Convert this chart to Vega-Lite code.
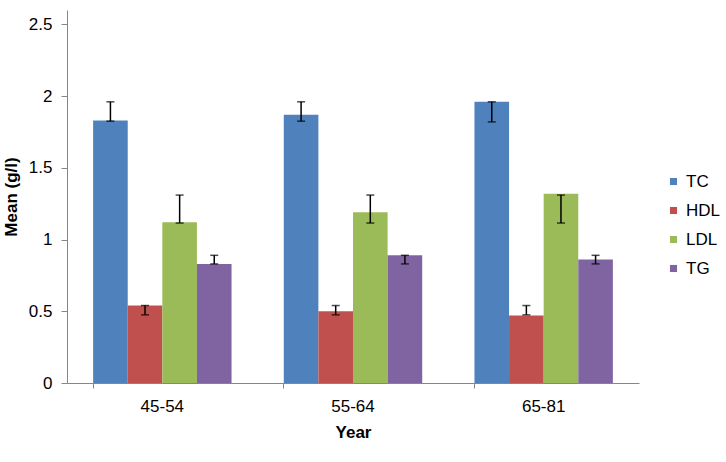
{
  "$schema": "https://vega.github.io/schema/vega-lite/v6.json",
  "width": 572,
  "height": 373,
  "autosize": {"type": "none"},
  "padding": {"left": 67, "top": 10, "right": 87, "bottom": 79},
  "background": "white",
  "config": {
    "view": {"stroke": null},
    "font": "Liberation Sans",
    "axis": {
      "domainColor": "#868686",
      "tickColor": "#868686",
      "labelColor": "#000000",
      "titleColor": "#000000",
      "labelFont": "Liberation Sans",
      "titleFont": "Liberation Sans",
      "labelFontSize": 17,
      "titleFontSize": 17,
      "titleFontWeight": "bold",
      "grid": false,
      "tickSize": 6
    }
  },
  "data": {
    "values": [
      {"year": "45-54", "measure": "TC", "mean": 1.83, "lo": 1.825, "hi": 1.96},
      {"year": "45-54", "measure": "HDL", "mean": 0.54, "lo": 0.475, "hi": 0.54},
      {"year": "45-54", "measure": "LDL", "mean": 1.12, "lo": 1.115, "hi": 1.31},
      {"year": "45-54", "measure": "TG", "mean": 0.83, "lo": 0.83, "hi": 0.89},
      {"year": "55-64", "measure": "TC", "mean": 1.87, "lo": 1.825, "hi": 1.96},
      {"year": "55-64", "measure": "HDL", "mean": 0.50, "lo": 0.475, "hi": 0.54},
      {"year": "55-64", "measure": "LDL", "mean": 1.19, "lo": 1.115, "hi": 1.31},
      {"year": "55-64", "measure": "TG", "mean": 0.89, "lo": 0.83, "hi": 0.89},
      {"year": "65-81", "measure": "TC", "mean": 1.96, "lo": 1.82, "hi": 1.96},
      {"year": "65-81", "measure": "HDL", "mean": 0.47, "lo": 0.475, "hi": 0.54},
      {"year": "65-81", "measure": "LDL", "mean": 1.32, "lo": 1.115, "hi": 1.31},
      {"year": "65-81", "measure": "TG", "mean": 0.86, "lo": 0.83, "hi": 0.89}
    ]
  },
  "encoding": {
    "x": {
      "field": "year",
      "type": "nominal",
      "sort": null,
      "title": "Year",
      "scale": {"paddingInner": 0.274, "paddingOuter": 0.137},
      "axis": {"bandPosition": 0, "labelAngle": 0, "labelPadding": 10, "titlePadding": 10, "tickSize": 5}
    },
    "xOffset": {
      "field": "measure",
      "type": "nominal",
      "sort": ["TC", "HDL", "LDL", "TG"],
      "scale": {"paddingInner": 0, "paddingOuter": 0}
    }
  },
  "layer": [
    {
      "mark": {"type": "bar"},
      "encoding": {
        "y": {
          "field": "mean",
          "type": "quantitative",
          "title": "Mean (g/l)",
          "scale": {"domain": [0, 2.5]},
          "axis": {"values": [0, 0.5, 1, 1.5, 2, 2.5], "labelPadding": 9, "titlePadding": 8, "format": "~r"}
        },
        "color": {
          "field": "measure",
          "type": "nominal",
          "sort": ["TC", "HDL", "LDL", "TG"],
          "scale": {
            "domain": ["TC", "HDL", "LDL", "TG"],
            "range": ["#4F81BD", "#C0504D", "#9BBB59", "#8064A2"]
          },
          "legend": {
            "orient": "none",
            "legendX": 598,
            "legendY": 163,
            "title": null,
            "symbolType": "square",
            "symbolSize": 50,
            "symbolStrokeWidth": 0,
            "labelFontSize": 17,
            "labelColor": "#000000",
            "labelFont": "Liberation Sans",
            "labelOffset": 4,
            "rowPadding": 11
          }
        }
      }
    },
    {
      "mark": {"type": "rule", "color": "black", "strokeWidth": 1.5},
      "encoding": {
        "y": {"field": "lo", "type": "quantitative", "title": "Mean (g/l)"},
        "y2": {"field": "hi"}
      }
    },
    {
      "mark": {"type": "tick", "color": "black", "thickness": 1.5, "size": 8},
      "encoding": {
        "y": {"field": "lo", "type": "quantitative", "title": "Mean (g/l)"}
      }
    },
    {
      "mark": {"type": "tick", "color": "black", "thickness": 1.5, "size": 8},
      "encoding": {
        "y": {"field": "hi", "type": "quantitative", "title": "Mean (g/l)"}
      }
    }
  ]
}
